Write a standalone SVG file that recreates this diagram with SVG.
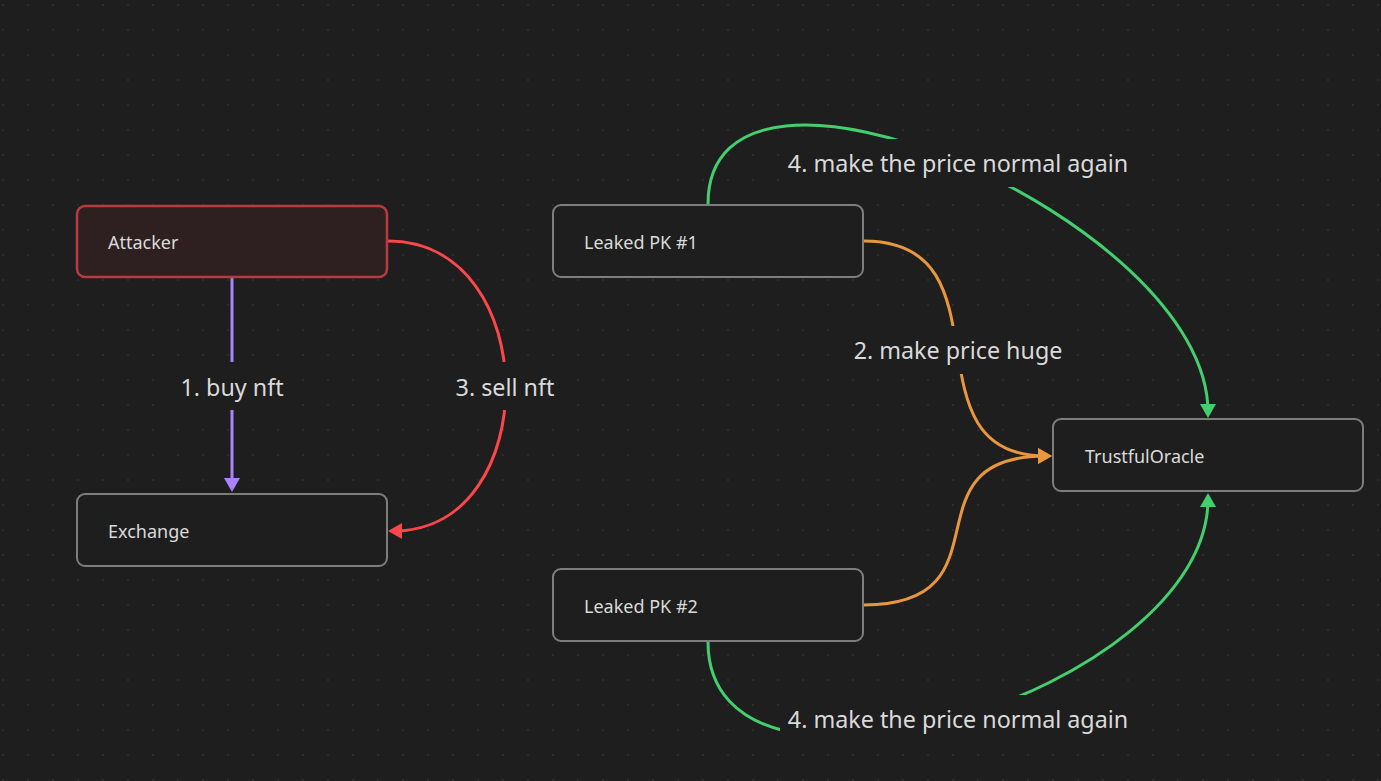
<svg xmlns="http://www.w3.org/2000/svg" width="1381" height="781" viewBox="0 0 1381 781">
  <style>
    .node rect { fill: #1e1e1e; stroke: #7e7e7e; stroke-width: 2; }
    .node text { font-family: "Noto Sans", "Open Sans", sans-serif; font-size: 18px; fill: #dadada; }
    #attacker rect { fill: #2e2021; stroke: #b83a40; stroke-width: 2.5; }
    .edge { fill: none; stroke-width: 3; }
    .lbl-bg { fill: #1e1e1e; }
    .lbl { font-family: "Noto Sans", "Open Sans", sans-serif; font-size: 23.3px; fill: #dadada; text-anchor: middle; }
  </style>
  <defs>
    <pattern id="dots" x="0" y="0" width="25" height="25" patternUnits="userSpaceOnUse">
      <rect x="2" y="4" width="2" height="2" fill="#2c2c2c"/>
    </pattern>
    <marker id="ah-purple" viewBox="0 0 14 16" refX="8" refY="8" markerWidth="14" markerHeight="16" markerUnits="userSpaceOnUse" orient="auto">
      <path d="M0,0 L14,8 L0,16 z" fill="#a882ff"/>
    </marker>
    <marker id="ah-red" viewBox="0 0 14 16" refX="8" refY="8" markerWidth="14" markerHeight="16" markerUnits="userSpaceOnUse" orient="auto">
      <path d="M0,0 L14,8 L0,16 z" fill="#fb464c"/>
    </marker>
    <marker id="ah-orange" viewBox="0 0 14 16" refX="8" refY="8" markerWidth="14" markerHeight="16" markerUnits="userSpaceOnUse" orient="auto">
      <path d="M0,0 L14,8 L0,16 z" fill="#e9973f"/>
    </marker>
    <marker id="ah-green" viewBox="0 0 14 16" refX="8" refY="8" markerWidth="14" markerHeight="16" markerUnits="userSpaceOnUse" orient="auto">
      <path d="M0,0 L14,8 L0,16 z" fill="#44cf6e"/>
    </marker>
  </defs>

  <rect x="0" y="0" width="1381" height="781" fill="#1e1e1e"/>
  <rect x="0" y="0" width="1381" height="781" fill="url(#dots)"/>

  <g id="connectors">
    <path class="edge" stroke="#a882ff" d="M232,278 L232,486" marker-end="url(#ah-purple)"/>
    <path class="edge" stroke="#fb464c" d="M388,241 C544,241 544,531 394,531" marker-end="url(#ah-red)"/>
    <path class="edge" stroke="#e9973f" d="M864,241 C1014,241 901,456 1046,456" marker-end="url(#ah-orange)"/>
    <path class="edge" stroke="#e9973f" d="M864,605 C1014,605 901,456 1046,456" marker-end="url(#ah-orange)"/>
    <path class="edge" stroke="#44cf6e" d="M708,204 C708,6 1208,220 1208,412" marker-end="url(#ah-green)"/>
    <path class="edge" stroke="#44cf6e" d="M708,642 C708,842 1208,693 1208,499" marker-end="url(#ah-green)"/>

    <rect class="lbl-bg" x="172" y="362" width="120" height="48"/>
    <text class="lbl" x="232" y="396">1. buy nft</text>
    <rect class="lbl-bg" x="447" y="362" width="116" height="48"/>
    <text class="lbl" x="505" y="396">3. sell nft</text>
    <rect class="lbl-bg" x="844" y="326" width="228" height="48"/>
    <text class="lbl" x="958" y="359">2. make price huge</text>
    <rect class="lbl-bg" x="780" y="139" width="356" height="48"/>
    <text class="lbl" x="958" y="172">4. make the price normal again</text>
    <rect class="lbl-bg" x="780" y="695" width="356" height="48"/>
    <text class="lbl" x="958" y="728">4. make the price normal again</text>
  </g>

  <g id="attacker" class="node">
    <rect x="77" y="206" width="310" height="71" rx="8"/>
    <text x="108" y="249">Attacker</text>
  </g>
  <g id="exchange" class="node">
    <rect x="77" y="494" width="310" height="72" rx="8"/>
    <text x="108" y="538">Exchange</text>
  </g>
  <g id="leaked-pk-1" class="node">
    <rect x="553" y="205" width="310" height="72" rx="8"/>
    <text x="584" y="249">Leaked PK #1</text>
  </g>
  <g id="leaked-pk-2" class="node">
    <rect x="553" y="569" width="310" height="72" rx="8"/>
    <text x="584" y="613">Leaked PK #2</text>
  </g>
  <g id="trustful-oracle" class="node">
    <rect x="1053" y="419" width="310" height="72" rx="8"/>
    <text x="1085" y="463">TrustfulOracle</text>
  </g>
</svg>
